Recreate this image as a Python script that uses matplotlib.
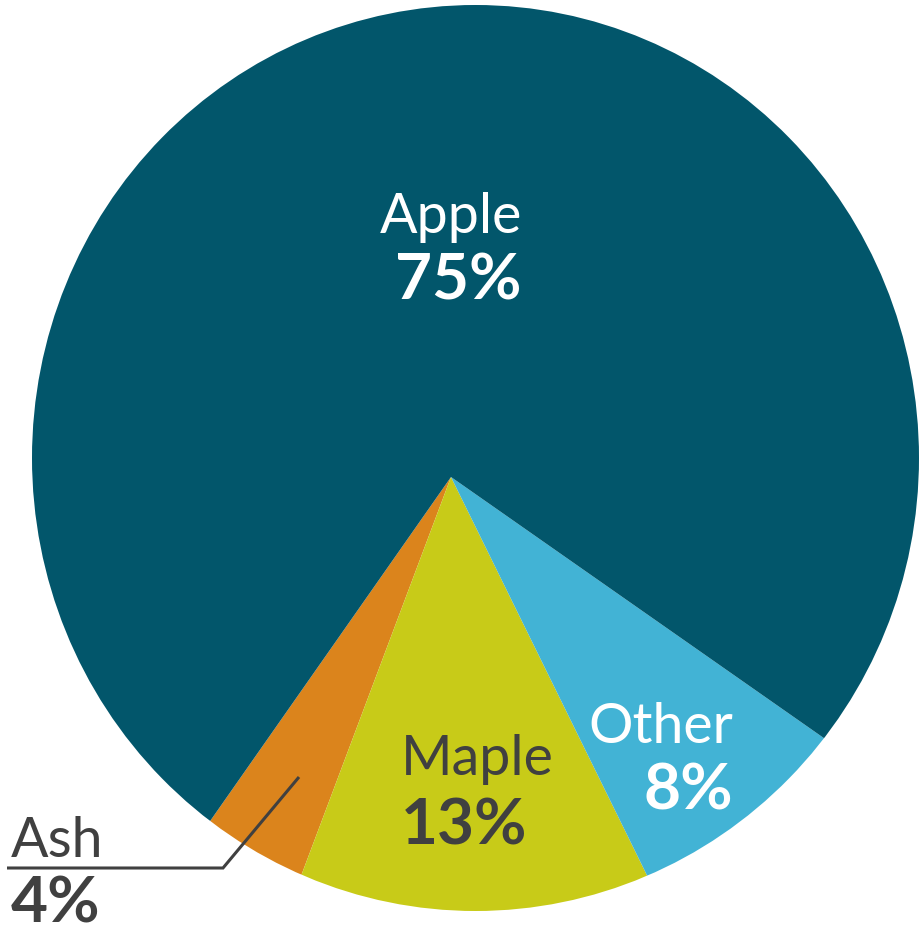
import matplotlib
matplotlib.use("Agg")
import matplotlib.pyplot as plt
from matplotlib.patches import Ellipse

categories = ["Ash", "Maple", "Other", "Apple"]
values = [4, 13, 8, 75]
colors = ["#DB841C", "#C8CB18", "#42B3D5", "#02566B"]

W, H = 920, 932
fig = plt.figure(figsize=(W / 100, H / 100), dpi=100)
ax = fig.add_axes([0, 0, 1, 1])

apex = (451, H - 477)
wedges, _ = ax.pie(values, colors=colors, startangle=235, counterclock=True,
                   radius=520, center=apex, frame=True,
                   wedgeprops=dict(linewidth=0))
ax.set_xlim(0, W)
ax.set_ylim(0, H)
ax.set_aspect("equal")
ax.axis("off")

clip = Ellipse((475.5, H - 458), 887, 906, facecolor="none", edgecolor="none")
ax.add_patch(clip)
for w in wedges:
    w.set_clip_on(True)
    w.set_clip_path(clip)

light = dict(family=["Lato", "DejaVu Sans"], fontweight="normal")
bold = dict(family=["Lato", "DejaVu Sans"], fontweight="bold")
dark = "#404040"

def px(x, y):
    return x, H - y

ax.text(*px(522, 233), "Apple", color="white", fontsize=40, ha="right", va="baseline", **light)
ax.text(*px(522, 300), "75%", color="white", fontsize=46, ha="right", va="baseline", **bold)
ax.text(*px(401, 775), "Maple", color=dark, fontsize=40, ha="left", va="baseline", **light)
ax.text(*px(401, 845), "13%", color=dark, fontsize=46, ha="left", va="baseline", **bold)
ax.text(*px(733, 743), "Other", color="white", fontsize=40, ha="right", va="baseline", **light)
ax.text(*px(733, 810), "8%", color="white", fontsize=46, ha="right", va="baseline", **bold)
ax.text(*px(11, 857), "Ash", color=dark, fontsize=40, ha="left", va="baseline", **light)
ax.text(*px(11, 923), "4%", color=dark, fontsize=46, ha="left", va="baseline", **bold)

ax.plot([7, 223, 299], [H - 868, H - 868, H - 777], color=dark, lw=2.2,
        solid_capstyle="butt", solid_joinstyle="miter")

fig.savefig("out.png", dpi=100)
